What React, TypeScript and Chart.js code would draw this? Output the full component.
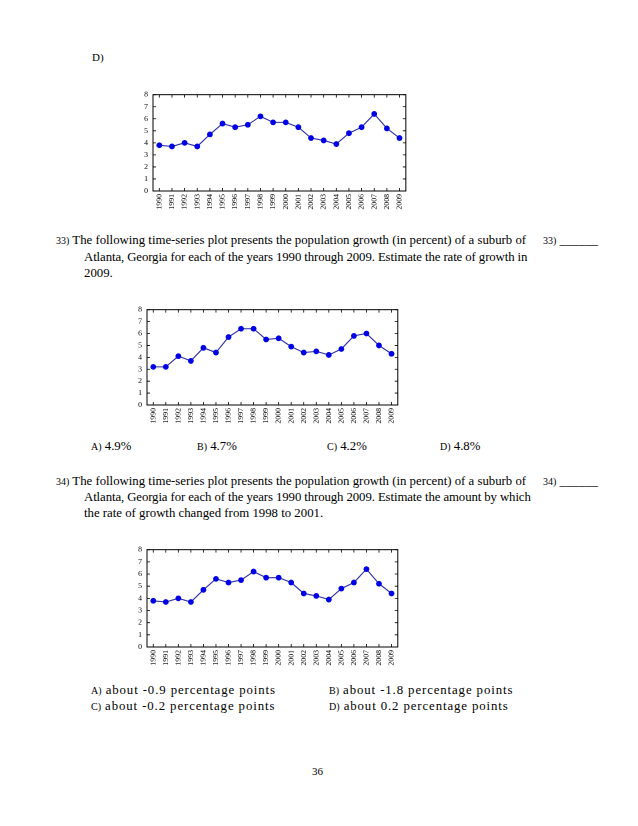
import React, { useEffect, useRef } from "react";
import { Chart, registerables } from "chart.js";

Chart.register(...registerables);

const years = ["1990", "1991", "1992", "1993", "1994", "1995", "1996", "1997", "1998", "1999", "2000", "2001", "2002", "2003", "2004", "2005", "2006", "2007", "2008", "2009"];
const growthA = [3.8, 3.7, 4.0, 3.7, 4.7, 5.6, 5.3, 5.5, 6.2, 5.7, 5.7, 5.3, 4.4, 4.2, 3.9, 4.8, 5.3, 6.4, 5.2, 4.4];
const growthB = [3.2, 3.2, 4.1, 3.7, 4.8, 4.4, 5.7, 6.4, 6.4, 5.5, 5.6, 4.9, 4.4, 4.5, 4.2, 4.7, 5.8, 6.0, 5.0, 4.3];
const yMin = 0;
const yMax = 8;

const SERIF = "'Liberation Serif', 'Times New Roman', 'DejaVu Serif', serif";

const framePlugin = {
  id: "frameTicks",
  afterDatasetsDraw(chart: any) {
    const { ctx, chartArea, scales } = chart;
    const { left, right, top, bottom } = chartArea;
    const x = scales.x;
    const y = scales.y;
    const len = 3;
    ctx.save();
    ctx.strokeStyle = "#000";
    ctx.lineWidth = 0.8;
    ctx.beginPath();
    x.ticks.forEach((_t: any, i: number) => {
      const px = x.getPixelForTick(i);
      ctx.moveTo(px, bottom);
      ctx.lineTo(px, bottom - len);
      ctx.moveTo(px, top);
      ctx.lineTo(px, top + len);
    });
    y.ticks.forEach((_t: any, i: number) => {
      const py = y.getPixelForTick(i);
      ctx.moveTo(left, py);
      ctx.lineTo(left + len, py);
      ctx.moveTo(right, py);
      ctx.lineTo(right - len, py);
    });
    ctx.stroke();
    ctx.lineWidth = 1;
    ctx.strokeRect(left, top, right - left, bottom - top);
    ctx.restore();
  },
};

type PlotProps = { values: number[]; plotLeft: number; plotTop: number; plotW: number; plotH: number };

function Plot({ values, plotLeft, plotTop, plotW, plotH }: PlotProps) {
  const ref = useRef<HTMLCanvasElement | null>(null);
  const yW = 14;
  const xH = 28;
  const padT = 5;
  const padR = 5;
  const w = yW + plotW + padR;
  const h = padT + plotH + xH;
  useEffect(() => {
    if (!ref.current) return;
    const chart = new Chart(ref.current, {
      type: "line",
      data: {
        labels: years,
        datasets: [
          {
            data: values,
            borderColor: "#2b2ba6",
            borderWidth: 1.1,
            pointBackgroundColor: "#0000e6",
            pointBorderColor: "#0000e6",
            pointRadius: 2.9,
            pointBorderWidth: 0,
            tension: 0,
          },
        ],
      },
      options: {
        animation: false,
        responsive: false,
        devicePixelRatio: 2,
        layout: { padding: { top: padT, right: padR, left: 0, bottom: 0 } },
        plugins: { legend: { display: false }, tooltip: { enabled: false } },
        scales: {
          x: {
            type: "category",
            offset: true,
            grid: { display: false, drawTicks: false },
            border: { display: false },
            ticks: {
              autoSkip: false,
              minRotation: 90,
              maxRotation: 90,
              padding: 3,
              color: "#000",
              font: { family: SERIF, size: 7.8 },
            },
            afterFit: (s: any) => {
              s.height = xH;
            },
          },
          y: {
            min: yMin,
            max: yMax,
            grid: { display: false, drawTicks: false },
            border: { display: false },
            ticks: {
              stepSize: 1,
              autoSkip: false,
              padding: 5,
              color: "#000",
              font: { family: SERIF, size: 7.8 },
            },
            afterFit: (s: any) => {
              s.width = yW;
            },
          },
        },
      },
      plugins: [framePlugin],
    });
    return () => chart.destroy();
  }, [values]);
  return (
    <canvas
      ref={ref}
      width={w}
      height={h}
      style={{ position: "absolute", left: plotLeft - yW, top: plotTop - padT, width: w, height: h }}
    />
  );
}

const FS = 12.8;
const T: React.CSSProperties = {
  position: "absolute",
  fontFamily: SERIF,
  fontSize: FS,
  lineHeight: "16px",
  whiteSpace: "nowrap",
  color: "#000",
};
const S: React.CSSProperties = { fontSize: 10, letterSpacing: 0 };

function Line({ x, y, children, size, ls }: { x: number; y: number; children: React.ReactNode; size?: number; ls?: number }) {
  return <div style={{ ...T, left: x, top: y - 8, fontSize: size ?? FS, letterSpacing: ls ?? 0 }}>{children}</div>;
}

export default function App() {
  return (
    <div style={{ position: "absolute", left: 0, top: 0, width: 638, height: 826, background: "#fff", overflow: "hidden" }}>
      <Line x={92} y={57} size={11}>D)</Line>
      <Plot values={growthA} plotLeft={153} plotTop={90} plotW={254} plotH={101} />

      <Line x={56} y={240}><span style={S}>33)</span> The following time-series plot presents the population growth (in percent) of a suburb of</Line>
      <Line x={84} y={257} ls={-0.1}>Atlanta, Georgia for each of the years 1990 through 2009. Estimate the rate of growth in</Line>
      <Line x={84} y={273}>2009.</Line>
      <Line x={543} y={240}><span style={S}>33)</span> ______</Line>

      <Plot values={growthB} plotLeft={147} plotTop={305} plotW={252} plotH={100} />

      <Line x={91} y={446}><span style={S}>A)</span> 4.9%</Line>
      <Line x={197} y={446}><span style={S}>B)</span> 4.7%</Line>
      <Line x={327} y={446}><span style={S}>C)</span> 4.2%</Line>
      <Line x={440} y={446}><span style={S}>D)</span> 4.8%</Line>

      <Line x={56} y={481}><span style={S}>34)</span> The following time-series plot presents the population growth (in percent) of a suburb of</Line>
      <Line x={84} y={497} ls={-0.1}>Atlanta, Georgia for each of the years 1990 through 2009. Estimate the amount by which</Line>
      <Line x={84} y={513}>the rate of growth changed from 1998 to 2001.</Line>
      <Line x={543} y={481}><span style={S}>34)</span> ______</Line>

      <Plot values={growthA} plotLeft={147} plotTop={545} plotW={252} plotH={102} />

      <Line x={91} y={690} ls={0.9}><span style={S}>A)</span> about -0.9 percentage points</Line>
      <Line x={329} y={690} ls={0.9}><span style={S}>B)</span> about -1.8 percentage points</Line>
      <Line x={91} y={706} ls={0.9}><span style={S}>C)</span> about -0.2 percentage points</Line>
      <Line x={329} y={706} ls={0.9}><span style={S}>D)</span> about 0.2 percentage points</Line>

      <Line x={312} y={771} size={11}>36</Line>
    </div>
  );
}
